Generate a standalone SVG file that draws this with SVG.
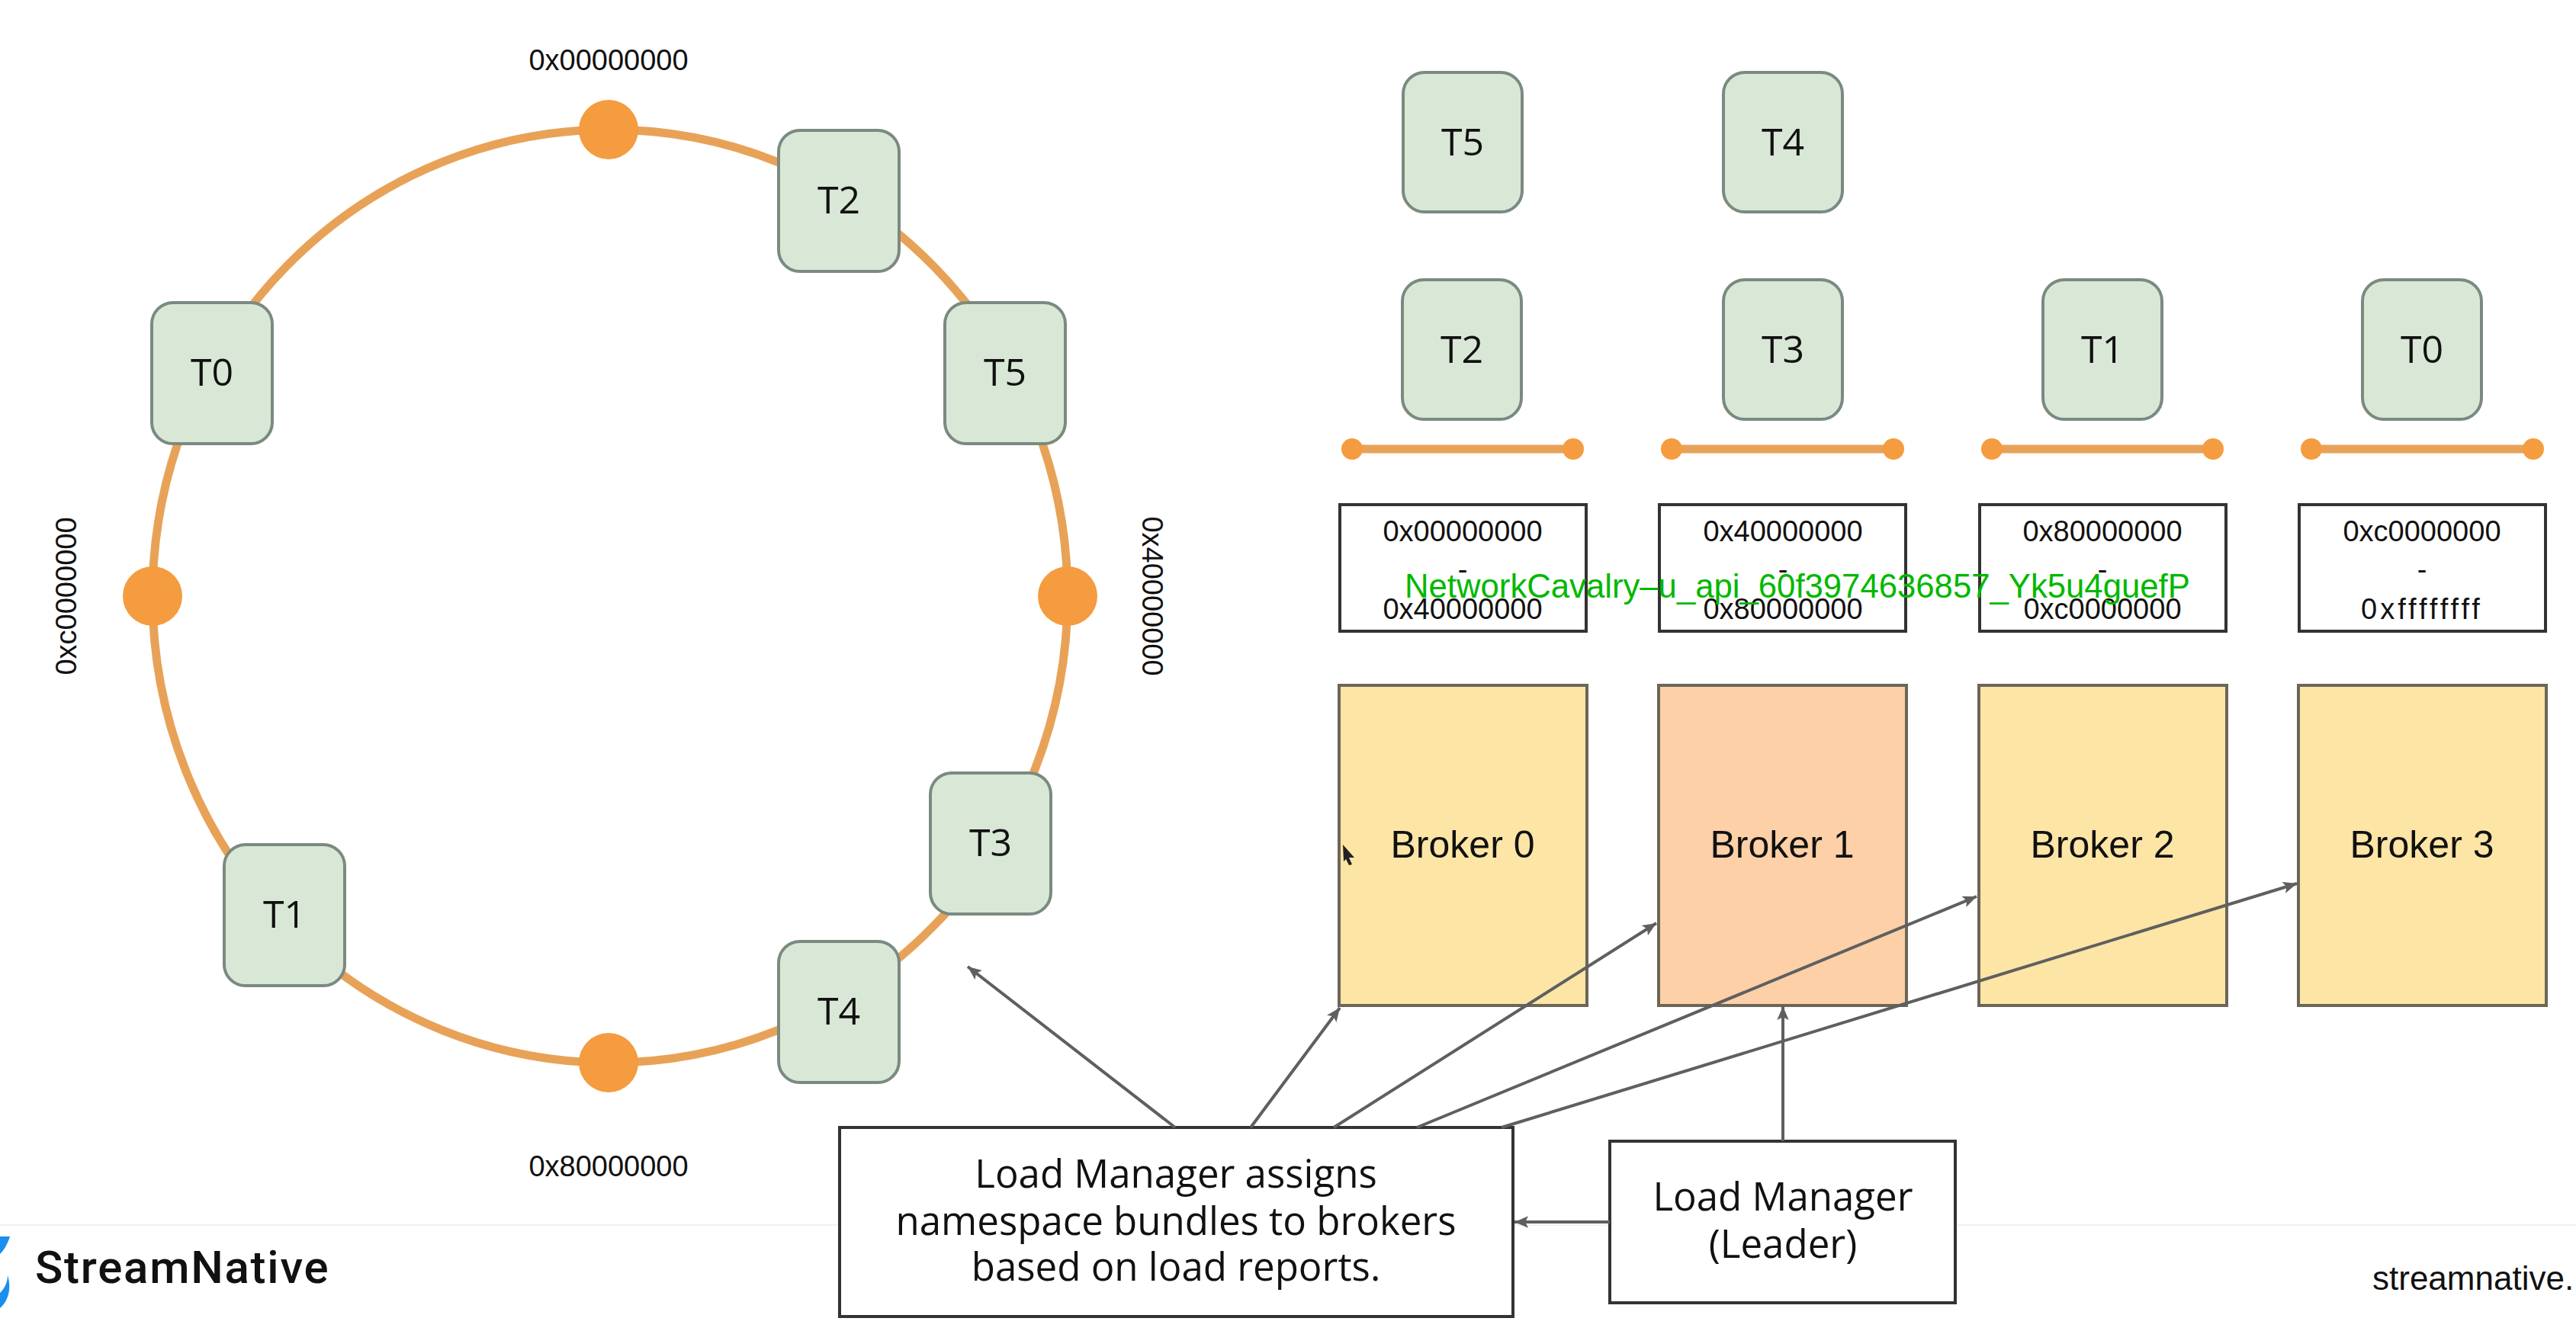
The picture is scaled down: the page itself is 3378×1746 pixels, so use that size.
<svg xmlns="http://www.w3.org/2000/svg" width="3378" height="1746" viewBox="0 0 3378 1746">
<style>
text{font-family:"Liberation Sans",Arial,sans-serif;fill:#111;text-anchor:middle}
.t{fill:#d9e8d6;stroke:#7b8a80;stroke-width:4}
.tl{font-family:"Open Sans",sans-serif;font-size:50px}
.hex{font-size:38px}
.rng{fill:#fff;stroke:#333;stroke-width:4}
.bk{stroke:#6b6658;stroke-width:4}
.bl{font-size:50px}
.lm{fill:#fff;stroke:#333;stroke-width:4}
.ll{font-family:"Open Sans",sans-serif;font-size:51px}
.seg{fill:none;stroke:#e8a258;stroke-width:11}
.dot{fill:#f49c3f}
.arr{fill:none;stroke:#5f5f5f;stroke-width:4;marker-end:url(#ah)}
</style>
<defs>
<marker id="ah" viewBox="0 0 14 12" markerUnits="userSpaceOnUse" markerWidth="18" markerHeight="16" refX="14" refY="6" orient="auto">
<path d="M0,0 L14,6 L0,12 L3,6 Z" fill="#5f5f5f"/>
</marker>
</defs>
<rect width="3378" height="1746" fill="#fff"/>
<line x1="0" y1="1607" x2="3378" y2="1607" stroke="#f1f1f1" stroke-width="2"/>

<g id="ring">
<ellipse class="seg" cx="800" cy="782" rx="600" ry="612"/>
<circle class="dot" cx="798" cy="170" r="39"/>
<circle class="dot" cx="1400" cy="782" r="39"/>
<circle class="dot" cx="798" cy="1394" r="39"/>
<circle class="dot" cx="200" cy="782" r="39"/>
<text class="hex" x="798" y="92">0x00000000</text>
<text class="hex" x="798" y="1543">0x80000000</text>
<text class="hex" transform="translate(1498,782) rotate(90)">0x40000000</text>
<text class="hex" transform="translate(100,782) rotate(-90)">0xc0000000</text>
</g>

<g id="ring-T2"><rect class="t" x="1021" y="171" width="158" height="185" rx="28"/><text class="tl" x="1100" y="280">T2</text></g>
<g id="ring-T5"><rect class="t" x="1239" y="397" width="158" height="185" rx="28"/><text class="tl" x="1318" y="506">T5</text></g>
<g id="ring-T0"><rect class="t" x="199" y="397" width="158" height="185" rx="28"/><text class="tl" x="278" y="506">T0</text></g>
<g id="ring-T3"><rect class="t" x="1220" y="1014" width="158" height="185" rx="28"/><text class="tl" x="1299" y="1123">T3</text></g>
<g id="ring-T1"><rect class="t" x="294" y="1108" width="158" height="185" rx="28"/><text class="tl" x="373" y="1217">T1</text></g>
<g id="ring-T4"><rect class="t" x="1021" y="1235" width="158" height="185" rx="28"/><text class="tl" x="1100" y="1344">T4</text></g>

<g id="queue-T5"><rect class="t" x="1840" y="95" width="156" height="183" rx="28"/><text class="tl" x="1918" y="204">T5</text></g>
<g id="queue-T4"><rect class="t" x="2260" y="95" width="156" height="183" rx="28"/><text class="tl" x="2338" y="204">T4</text></g>
<g id="queue-T2"><rect class="t" x="1839" y="367" width="156" height="183" rx="28"/><text class="tl" x="1917" y="476">T2</text></g>
<g id="queue-T3"><rect class="t" x="2260" y="367" width="156" height="183" rx="28"/><text class="tl" x="2338" y="476">T3</text></g>
<g id="queue-T1"><rect class="t" x="2679" y="367" width="156" height="183" rx="28"/><text class="tl" x="2757" y="476">T1</text></g>
<g id="queue-T0"><rect class="t" x="3098" y="367" width="156" height="183" rx="28"/><text class="tl" x="3176" y="476">T0</text></g>

<g id="segment-0"><line class="seg" x1="1773" y1="589" x2="2063" y2="589"/><circle class="dot" cx="1773" cy="589" r="14"/><circle class="dot" cx="2063" cy="589" r="14"/></g>
<g id="segment-1"><line class="seg" x1="2192" y1="589" x2="2483" y2="589"/><circle class="dot" cx="2192" cy="589" r="14"/><circle class="dot" cx="2483" cy="589" r="14"/></g>
<g id="segment-2"><line class="seg" x1="2612" y1="589" x2="2902" y2="589"/><circle class="dot" cx="2612" cy="589" r="14"/><circle class="dot" cx="2902" cy="589" r="14"/></g>
<g id="segment-3"><line class="seg" x1="3031" y1="589" x2="3322" y2="589"/><circle class="dot" cx="3031" cy="589" r="14"/><circle class="dot" cx="3322" cy="589" r="14"/></g>

<g id="range-0"><rect class="rng" x="1757" y="662" width="323" height="166"/><text class="hex" x="1918" y="710">0x00000000</text><text class="hex" x="1918" y="760">-</text><text class="hex" x="1918" y="812">0x40000000</text></g>
<g id="range-1"><rect class="rng" x="2176" y="662" width="323" height="166"/><text class="hex" x="2338" y="710">0x40000000</text><text class="hex" x="2338" y="760">-</text><text class="hex" x="2338" y="812">0x80000000</text></g>
<g id="range-2"><rect class="rng" x="2596" y="662" width="323" height="166"/><text class="hex" x="2757" y="710">0x80000000</text><text class="hex" x="2757" y="760">-</text><text class="hex" x="2757" y="812">0xc0000000</text></g>
<g id="range-3"><rect class="rng" x="3015" y="662" width="323" height="166"/><text class="hex" x="3176" y="710">0xc0000000</text><text class="hex" x="3176" y="760">-</text><text class="hex" x="3176" y="812" style="letter-spacing:4px">0xffffffff</text></g>

<g id="broker-0"><rect class="bk" x="1756" y="899" width="325" height="420" fill="#fde5a6"/><text class="bl" x="1918" y="1125">Broker 0</text></g>
<g id="broker-1"><rect class="bk" x="2175" y="899" width="325" height="420" fill="#fdd0a8"/><text class="bl" x="2337" y="1125">Broker 1</text></g>
<g id="broker-2"><rect class="bk" x="2595" y="899" width="325" height="420" fill="#fde5a6"/><text class="bl" x="2757" y="1125">Broker 2</text></g>
<g id="broker-3"><rect class="bk" x="3014" y="899" width="325" height="420" fill="#fde5a6"/><text class="bl" x="3176" y="1125">Broker 3</text></g>

<g id="load-manager-note"><rect class="lm" x="1101" y="1479" width="883" height="248"/>
<text class="ll" x="1542" y="1558">Load Manager assigns</text>
<text class="ll" x="1542" y="1620">namespace bundles to brokers</text>
<text class="ll" x="1542" y="1680">based on load reports.</text></g>
<g id="load-manager-leader"><rect class="lm" x="2111" y="1497" width="453" height="212"/>
<text class="ll" x="2338" y="1588">Load Manager</text>
<text class="ll" x="2338" y="1650">(Leader)</text></g>

<g id="connectors">
<line class="arr" x1="1541" y1="1479" x2="1269" y2="1268"/>
<line class="arr" x1="1640" y1="1479" x2="1757" y2="1322"/>
<line class="arr" x1="1749" y1="1479" x2="2172" y2="1211"/>
<line class="arr" x1="1858" y1="1479" x2="2592" y2="1176"/>
<line class="arr" x1="1969" y1="1479" x2="3012" y2="1159"/>
<line class="arr" x1="2338" y1="1497" x2="2338" y2="1320"/>
<line class="arr" x1="2111" y1="1603" x2="1986" y2="1603"/>
</g>

<path id="cursor" d="M1761,1108 L1776,1125 L1769,1125 L1773,1134 L1769,1135 L1765,1127 L1762,1130 Z" fill="#222"/>

<g id="logo">
<path d="M0,1622 L13,1622 C10,1632 5,1640 0,1645 Z" fill="#1a8fef"/>
<path d="M10,1673 C15,1688 12,1706 0,1716 L0,1696 C6,1690 10,1682 10,1673 Z" fill="#1a8fef"/>
<text x="46" y="1683" style="text-anchor:start;font-family:Roboto,sans-serif;font-weight:500;font-size:60px;letter-spacing:1.75px">StreamNative</text>
</g>
<text id="site" x="3111" y="1692" style="text-anchor:start;font-size:44px">streamnative.</text>
<text id="watermark" x="1842" y="784" style="text-anchor:start;font-size:43.7px;fill:#00b800">NetworkCavalry–u_api_60f3974636857_Yk5u4guefP</text>
</svg>
